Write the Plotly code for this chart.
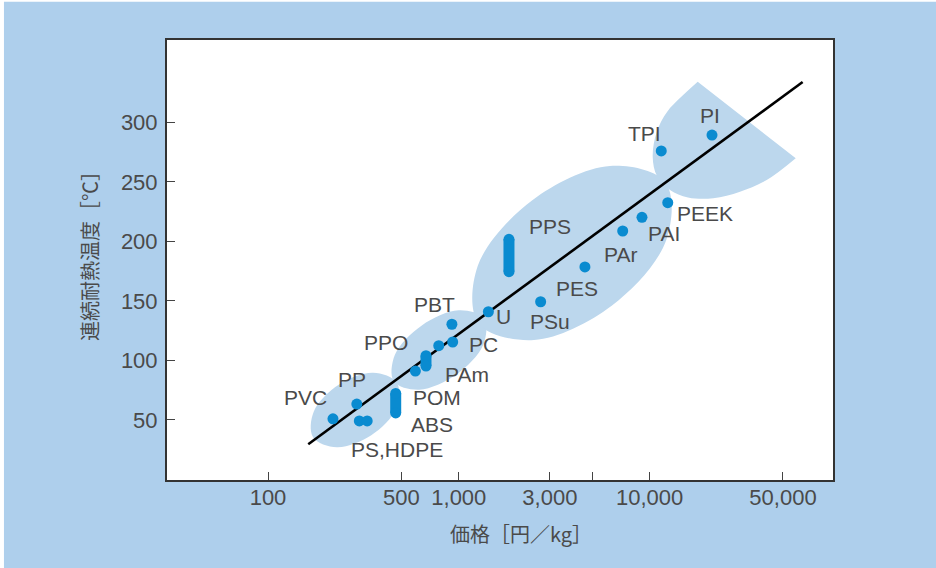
import numpy as np
import plotly.graph_objects as go

# ---------------- data ----------------
# single-value materials: price [yen/kg], continuous heat-resistant temperature [deg C]
pt_names = ["PVC", "PP", "PS", "HDPE", "PPO", "m-PPE", "PC", "PBT", "U",
            "PSu", "PES", "PAr", "PAI", "PEEK", "TPI", "PI"]
pt_price = [219, 292, 301, 331, 592, 785, 929, 920, 1429,
            2685, 4581, 7228, 9120, 12450, 11510, 21230]
pt_temp = [51.0, 63.4, 49.2, 49.2, 91.1, 112.4, 115.5, 130.4, 140.9,
           149.3, 178.5, 208.7, 220.2, 232.5, 275.9, 289.3]

# materials shown with a temperature range (vertical bars)
bar_names = ["POM/ABS", "PAm", "PPS"]
bar_price = [467, 673, 1832]
bar_low = [55.9, 95.3, 174.5]
bar_high = [72.3, 104.0, 201.7]

# trend line end points
fit_price = [162.5, 63400]
fit_temp = [29.6, 333.8]

# text labels
label_text = ["PVC", "PP", "PS,HDPE", "ABS", "POM", "PAm", "PPO", "PBT", "PC", "U",
              "PSu", "PES", "PAr", "PAI", "PPS", "PEEK", "TPI", "PI"]
label_price = [156.3, 275.4, 474.2, 724.4, 769.1, 1104, 415.0, 749.9, 1355, 1706,
               3006, 4169, 6998, 11890, 3006, 19500, 9354, 20750]
label_temp = [68.5, 84.4, 25.6, 45.8, 69.3, 88.6, 114.7, 147.4, 113.0, 136.5,
              133.1, 160.8, 188.6, 206.2, 212.1, 223.8, 291.0, 306.1]

# shaded group regions (outline points, price / temperature)
reg1_price = [473.8, 469.8, 347.8, 229.7, 172.3, 173.8, 234.7, 355.4]
reg1_temp = [81.2, 59.6, 37.2, 27.2, 35.6, 57.2, 79.6, 89.6]
reg2_price = [1357, 1341, 969.2, 620.9, 457.0, 462.5, 640.0, 998.8]
reg2_temp = [135.2, 112.9, 88.1, 75.4, 82.3, 104.7, 129.4, 142.1]
reg3_price = [12100, 12200, 6329, 2478, 1270, 1259, 2428, 6200]
reg3_temp = [249.4, 200.7, 146.0, 117.2, 131.1, 179.7, 234.5, 263.3]
reg4_price = [58330, 41090, 29770, 21570, 15890, 12790, 10930, 10380, 10890, 12340, 14610, 17870]
reg4_temp = [269.8, 251.5, 241.7, 236.2, 236.9, 243.1, 254.9, 270.9, 291.9, 308.7, 321.2, 334.1]

x_tickvals = [100, 500, 1000, 3000, 5000, 10000, 50000]
x_ticktext = ["100", "500", "1,000", "3,000", "", "10,000", "50,000"]
y_tickvals = [50, 100, 150, 200, 250, 300]

x_title = "価格［円／kg］"
y_title = "連続耐熱温度［℃］"

# ---------------- styling ----------------
BG = "#aecfec"
REGION = "#bcd7ed"
DOT = "#0a8bd0"
TXT = "#4a4a4a"
FONT = "Liberation Sans, Arial, Noto Sans CJK JP, sans-serif"
JFONT = "Noto Sans CJK JP, Liberation Sans, sans-serif"

fig = go.Figure()

def closed(a):
    return list(a) + [a[0]]

for px_, ty_ in [(reg1_price, reg1_temp), (reg2_price, reg2_temp), (reg3_price, reg3_temp)]:
    fig.add_trace(go.Scatter(x=closed(px_), y=closed(ty_), mode="lines",
                             line=dict(shape="spline", width=0, color=REGION, smoothing=1),
                             fill="toself", fillcolor=REGION, hoverinfo="skip", showlegend=False))
# PI / TPI fan-shaped region: open spline, closed by a straight edge
fig.add_trace(go.Scatter(x=reg4_price, y=reg4_temp, mode="lines",
                         line=dict(shape="spline", width=0, color=REGION, smoothing=1),
                         fill="toself", fillcolor=REGION, hoverinfo="skip", showlegend=False))

# trend line
fig.add_trace(go.Scatter(x=fit_price, y=fit_temp, mode="lines",
                         line=dict(color="black", width=2.6), hoverinfo="skip", showlegend=False))

# range bars
for n, p, lo, hi in zip(bar_names, bar_price, bar_low, bar_high):
    fig.add_trace(go.Scatter(x=[p, p], y=[lo, hi], mode="lines+markers", name=n,
                             line=dict(color=DOT, width=11), marker=dict(color=DOT, size=11),
                             showlegend=False))

# points
fig.add_trace(go.Scatter(x=pt_price, y=pt_temp, mode="markers", text=pt_names,
                         marker=dict(color=DOT, size=11), showlegend=False))

for t, p, v in zip(label_text, label_price, label_temp):
    fig.add_annotation(x=np.log10(p), y=v, text=t, showarrow=False, xref="x", yref="y",
                       xanchor="center", yanchor="middle",
                       font=dict(family=FONT, size=21, color=TXT))

# axis titles (placed as in the original, slightly off-centre)
fig.add_annotation(x=0.5315, y=-0.1205, xref="paper", yref="paper", text=x_title,
                   showarrow=False, xanchor="center", yanchor="middle",
                   font=dict(family=JFONT, size=20, color=TXT))
fig.add_annotation(x=-0.1155, y=0.5205, xref="paper", yref="paper", text=y_title,
                   showarrow=False, xanchor="center", yanchor="middle", textangle=-90,
                   font=dict(family=JFONT, size=20, color=TXT))

axis_common = dict(showgrid=False, zeroline=False, showline=True, mirror=True,
                   linecolor="#333333", linewidth=2, ticks="inside", ticklen=8,
                   tickwidth=1.2, tickcolor="#444444",
                   tickfont=dict(family=FONT, size=22, color=TXT))

fig.update_layout(
    width=936, height=568, autosize=False,
    margin=dict(l=167, r=103, t=40, b=88, pad=0),
    paper_bgcolor=BG, plot_bgcolor="white",
    xaxis=dict(type="log", range=[1.4706, 4.9612], tickvals=x_tickvals, ticktext=x_ticktext,
               ticklabelstandoff=-3, **axis_common),
    yaxis=dict(range=[-0.4, 369.1], tickvals=y_tickvals, ticklabelstandoff=3,
               **axis_common),
    shapes=[
        dict(type="rect", xref="paper", yref="paper", x0=-0.3, x1=1.3, y0=1.087, y1=1.2,
             fillcolor="white", line=dict(width=0), layer="above"),
        dict(type="rect", xref="paper", yref="paper", x0=-0.3, x1=-0.2448, y0=-0.3, y1=1.2,
             fillcolor="white", line=dict(width=0), layer="above"),
    ],
)

fig.write_html("out.html", config={"displayModeBar": False},
               post_script="document.body.style.margin='0';document.body.style.overflow='hidden';")
